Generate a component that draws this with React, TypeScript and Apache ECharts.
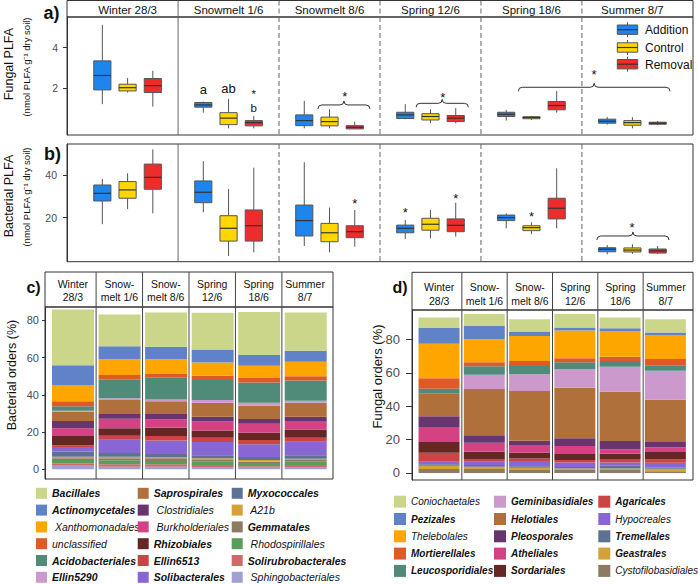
import React, { useEffect, useRef } from "react";
import * as echarts from "echarts";

const FONT = "'Liberation Sans', Arial, Helvetica, sans-serif";

// ---------- panels a / b ----------
const PERIODS = ["Winter 28/3", "Snowmelt 1/6", "Snowmelt 8/6", "Spring 12/6", "Spring 18/6", "Summer 8/7"];
const PERIODS_SHORT = ["Winter\n28/3", "Snow-\nmelt 1/6", "Snow-\nmelt 8/6", "Spring\n12/6", "Spring\n18/6", "Summer\n8/7"];
const TREATMENTS = ["Addition", "Control", "Removal"];
const TREATMENT_COLORS = ["#1C86EE", "#FFD700", "#EE2C2C"];

// [min, q1, median, q3, max] per period
const FUNGAL_ADDITION = [
  [1.22, 1.92, 2.63, 3.35, 5.12],
  [0.8, 1.07, 1.18, 1.3, 1.35],
  [0.03, 0.16, 0.41, 0.69, 1.38],
  [0.48, 0.51, 0.69, 0.82, 1.22],
  [0.41, 0.61, 0.72, 0.82, 0.94],
  [0.21, 0.28, 0.38, 0.48, 0.58],
];
const FUNGAL_CONTROL = [
  [1.79, 1.87, 2.03, 2.2, 2.5],
  [0.03, 0.21, 0.53, 0.8, 1.48],
  [0.03, 0.15, 0.36, 0.58, 0.97],
  [0.28, 0.44, 0.61, 0.75, 0.97],
  [0.44, 0.5, 0.56, 0.6, 0.64],
  [0.03, 0.18, 0.31, 0.41, 0.58],
];
const FUNGAL_REMOVAL = [
  [1.1, 1.79, 2.13, 2.48, 2.86],
  [0.03, 0.15, 0.31, 0.41, 0.64],
  [0.0, 0.0, 0.08, 0.16, 0.36],
  [0.28, 0.36, 0.53, 0.66, 1.02],
  [0.8, 0.94, 1.15, 1.35, 1.87],
  [0.18, 0.23, 0.28, 0.33, 0.39],
];
const BACTERIAL_ADDITION = [
  [16.9, 27.8, 31.4, 35.3, 38.1],
  [22.5, 27.0, 31.9, 37.2, 46.5],
  [6.7, 11.4, 18.6, 25.9, 46.0],
  [10.0, 12.9, 15.0, 16.5, 18.9],
  [15.0, 18.6, 20.0, 21.2, 22.0],
  [2.8, 4.0, 5.2, 5.9, 7.2],
];
const BACTERIAL_CONTROL = [
  [24.0, 29.1, 33.0, 36.9, 40.8],
  [2.0, 9.0, 15.0, 20.9, 33.4],
  [3.7, 8.7, 12.9, 17.3, 24.7],
  [10.3, 14.1, 16.9, 19.7, 23.6],
  [12.2, 13.9, 15.3, 16.2, 17.8],
  [3.0, 3.9, 4.8, 5.8, 7.5],
];
const BACTERIAL_REMOVAL = [
  [22.0, 33.3, 38.9, 45.1, 52.0],
  [3.7, 9.0, 16.2, 23.6, 43.4],
  [6.4, 10.6, 13.4, 16.2, 23.6],
  [11.1, 13.4, 16.4, 19.4, 27.0],
  [15.0, 19.4, 24.4, 29.1, 43.1],
  [3.1, 3.4, 4.4, 5.3, 6.7],
];
const FUNGAL_STATS = [FUNGAL_ADDITION, FUNGAL_CONTROL, FUNGAL_REMOVAL];
const BACTERIAL_STATS = [BACTERIAL_ADDITION, BACTERIAL_CONTROL, BACTERIAL_REMOVAL];

const FUNGAL_TICKS = [2, 4];
const BACTERIAL_TICKS = [20, 40];
const PCT_TICKS = [0, 20, 40, 60, 80];

// x positions on the continuous a/b axis: period p, treatment t -> 4p + t + 1
const PERIOD_DIVIDERS = [4, 8, 12, 16, 20];
const PERIOD_DIVIDER_SOLID = [true, false, false, false, false];
const PERIOD_CENTERS = [2, 6, 10, 14, 18, 22];

// braces: [x from, x to, y]
const FUNGAL_BRACES = [
  [9.54, 11.6, 1.18],
  [13.43, 15.5, 1.26],
  [17.48, 23.49, 2.05],
];
const BACTERIAL_BRACES = [[20.59, 23.45, 11.4]];
// marks: [x, y]
const FUNGAL_MARK_POS = [
  [5, 1.92], [6, 2.0], [7, 1.84], [7, 1.03], [10.6, 1.72], [14.49, 1.7], [20.48, 2.82],
];
const FUNGAL_MARK_TEXT = ["a", "ab", "*", "b", "*", "*", "*"];
const FUNGAL_MARK_SIZE = [13, 13, 11.5, 11.5, 13, 13, 13];
const BACTERIAL_MARK_POS = [
  [11, 27.8], [13, 23.6], [15, 30.3], [18, 22.0], [21.98, 16.5],
];
const BACTERIAL_MARK_TEXT = ["*", "*", "*", "*", "*"];

// ---------- panels c / d ----------
const BAR_PERIODS = ["Winter 28/3", "Snowmelt 1/6", "Snowmelt 8/6", "Spring 12/6", "Spring 18/6", "Summer 8/7"];
const BACT_ORDERS = [
  "Bacillales", "Actinomycetales", "Xanthomonadales", "unclassified", "Acidobacteriales", "Ellin5290",
  "Saprospirales", "Clostridiales", "Burkholderiales", "Rhizobiales", "Ellin6513", "Solibacterales",
  "Myxococcales", "A21b", "Gemmatales", "Rhodospirillales", "Solirubrobacterales", "Sphingobacteriales",
];
const BACT_BOLD = [
  "Bacillales", "Actinomycetales", "Acidobacteriales", "Ellin5290", "Saprospirales", "Rhizobiales",
  "Ellin6513", "Solibacterales", "Myxococcales", "Gemmatales", "Solirubrobacterales",
];
const BACT_VALUES = [
  [30.0, 17.0, 18.4, 19.7, 23.2, 20.6],
  [10.6, 7.0, 6.7, 6.9, 5.7, 5.9],
  [8.6, 8.5, 8.0, 7.0, 6.6, 7.7],
  [2.7, 2.5, 2.0, 2.5, 2.4, 2.3],
  [2.5, 10.0, 11.6, 10.7, 10.9, 10.9],
  [0.3, 0.9, 1.0, 1.5, 1.6, 1.1],
  [5.2, 7.5, 6.8, 7.5, 7.1, 7.5],
  [3.8, 2.6, 2.9, 2.5, 2.5, 2.3],
  [4.2, 5.1, 4.5, 4.8, 4.9, 4.5],
  [5.0, 4.0, 4.4, 4.0, 3.9, 4.5],
  [0.9, 2.1, 2.4, 2.3, 2.3, 2.1],
  [2.5, 7.2, 7.3, 7.1, 6.8, 7.3],
  [2.7, 1.9, 1.6, 1.6, 1.6, 1.8],
  [0.9, 0.9, 0.7, 0.9, 0.9, 0.7],
  [0.9, 1.1, 1.4, 0.9, 0.7, 0.9],
  [1.8, 2.1, 1.8, 1.8, 1.8, 1.8],
  [1.3, 1.3, 1.3, 1.1, 0.7, 1.1],
  [1.9, 1.4, 1.4, 1.2, 0.9, 1.2],
];
const BACT_COLORS = [
  "#CBD68B", "#6083C8", "#FFA500", "#DE5A26", "#508A78", "#CC99CC",
  "#B0703B", "#68356F", "#D54284", "#652724", "#CC4446", "#8866D4",
  "#5D7292", "#D5A23A", "#8C7A61", "#5A9C5A", "#D16B6B", "#A0A0D2",
];

const FUNG_ORDERS = [
  "Coniochaetales", "Pezizales", "Thelebolales", "Mortierellales", "Leucosporidiales",
  "Geminibasidiales", "Helotiales", "Pleosporales", "Atheliales", "Sordariales",
  "Agaricales", "Hypocreales", "Tremellales", "Geastrales", "Cystofilobasidiales",
];
const FUNG_BOLD = [
  "Pezizales", "Mortierellales", "Leucosporidiales", "Geminibasidiales", "Helotiales", "Pleosporales",
  "Atheliales", "Sordariales", "Agaricales", "Tremellales", "Geastrales",
];
const FUNG_VALUES = [
  [6.3, 7.2, 7.4, 8.2, 6.4, 8.0],
  [9.4, 8.0, 2.6, 1.8, 1.6, 1.4],
  [20.8, 13.8, 15.0, 16.6, 15.4, 14.4],
  [6.2, 2.4, 3.0, 2.4, 2.6, 3.8],
  [3.0, 5.0, 5.0, 4.0, 3.4, 3.2],
  [0.2, 8.6, 10.0, 11.2, 15.0, 17.4],
  [13.4, 27.8, 29.8, 30.4, 29.6, 25.4],
  [6.4, 4.4, 2.6, 4.6, 5.0, 3.2],
  [9.0, 5.4, 4.6, 4.8, 2.4, 2.8],
  [6.4, 4.4, 3.4, 3.6, 3.4, 4.4],
  [5.4, 1.6, 1.6, 1.4, 2.0, 2.0],
  [1.5, 2.0, 3.1, 2.8, 2.0, 3.0],
  [0.9, 1.0, 0.9, 0.8, 1.6, 0.6],
  [2.0, 1.4, 1.4, 1.0, 1.0, 1.5],
  [2.3, 2.3, 1.7, 1.7, 1.7, 1.0],
];
const FUNG_COLORS = [
  "#CBD68B", "#6083C8", "#FFA500", "#DE5A26", "#508A78",
  "#CC99CC", "#B0703B", "#68356F", "#D54284", "#652724",
  "#CC4446", "#8866D4", "#5D7292", "#D5A23A", "#8C7A61",
];
const BAR_DIVIDERS = [0.5, 1.5, 2.5, 3.5, 4.5];
const BAR_CENTERS = [0, 1, 2, 3, 4, 5];
const INDENTED = ["Xanthomonadales", "Clostridiales", "Burkholderiales", "A21b", "Rhodospirillales", "Sphingobacteriales"];

// ---------- helpers ----------
const BOX_W = 0.68;

function renderBox(color: string) {
  return (params: any, api: any) => {
    const x = api.value(0);
    const lo = api.coord([x, api.value(1)]);
    const q1 = api.coord([x, api.value(2)]);
    const md = api.coord([x, api.value(3)]);
    const q3 = api.coord([x, api.value(4)]);
    const hi = api.coord([x, api.value(5)]);
    const w = api.size([BOX_W, 0])[0];
    const cx = lo[0];
    return {
      type: "group",
      children: [
        { type: "line", shape: { x1: cx, y1: hi[1], x2: cx, y2: q3[1] }, style: { stroke: "#555", lineWidth: 1 } },
        { type: "line", shape: { x1: cx, y1: q1[1], x2: cx, y2: lo[1] }, style: { stroke: "#555", lineWidth: 1 } },
        {
          type: "rect",
          shape: { x: cx - w / 2, y: q3[1], width: w, height: Math.max(q1[1] - q3[1], 1.5) },
          style: { fill: color, stroke: "#555", lineWidth: 1 },
        },
        { type: "line", shape: { x1: cx - w / 2, y1: md[1], x2: cx + w / 2, y2: md[1] }, style: { stroke: "#333", lineWidth: 1.2 } },
      ],
    };
  };
}

function renderDivider(solid: boolean[], color: string) {
  return (params: any, api: any) => {
    const cs = params.coordSys;
    const x = api.coord([api.value(0), api.value(1)])[0];
    return {
      type: "line",
      shape: { x1: x, y1: cs.y, x2: x, y2: cs.y + cs.height },
      style: { stroke: color, lineWidth: 1, lineDash: solid[params.dataIndex] ? null : [5, 3] },
    };
  };
}

function renderText(texts: string[], fontSize: number | number[], lineHeight: number) {
  return (params: any, api: any) => {
    const p = api.coord([api.value(0), api.value(1)]);
    const t = texts[params.dataIndex];
    const fs = Array.isArray(fontSize) ? fontSize[params.dataIndex] : fontSize;
    const star = t === "*";
    return {
      type: "text",
      x: p[0],
      y: p[1] + (star ? fs * 0.22 : 0),
      style: {
        text: t,
        fontSize: fs,
        fontFamily: FONT,
        fill: "#111",
        align: "center",
        verticalAlign: "middle",
        lineHeight: star ? 7 : lineHeight,
      },
    };
  };
}

function renderBrace(params: any, api: any) {
  const a = api.coord([api.value(0), api.value(2)]);
  const b = api.coord([api.value(1), api.value(2)]);
  const y = a[1];
  const x1 = a[0];
  const x2 = b[0];
  const xm = (x1 + x2) / 2;
  const r = 4;
  const d =
    `M${x1},${y + r} Q${x1},${y} ${x1 + r},${y} L${xm - r},${y} Q${xm},${y} ${xm},${y - r} ` +
    `Q${xm},${y} ${xm + r},${y} L${x2 - r},${y} Q${x2},${y} ${x2},${y + r}`;
  return { type: "path", shape: { pathData: d }, style: { stroke: "#333", fill: "none", lineWidth: 1 } };
}

function chunk<T>(arr: T[], n: number): T[][] {
  const out: T[][] = [];
  for (let i = 0; i < arr.length; i += n) out.push(arr.slice(i, i + n));
  return out;
}

function buildOption() {
  const gridBase = { show: true, borderColor: "#333", borderWidth: 1, containLabel: false, outerBoundsMode: "none" };
  const grid: any[] = [
    { left: 67, top: 0.5, width: 626, height: 16.5 },
    { left: 67, top: 17, width: 626, height: 118 },
    { left: 67, top: 144, width: 626, height: 117.7 },
    { left: 45, top: 272, width: 288, height: 35 },
    { left: 45, top: 307, width: 288, height: 172 },
    { left: 412, top: 272.3, width: 281, height: 37.7 },
    { left: 412, top: 310, width: 281, height: 170 },
  ].map((g) => ({ ...gridBase, ...g }));
  // bar grids (inner band area of c and d)
  grid.push({ left: 49.75, top: 307, width: 279.25, height: 172, show: false, containLabel: false, outerBoundsMode: "none" });
  grid.push({ left: 416.4, top: 310, width: 271.6, height: 170, show: false, containLabel: false, outerBoundsMode: "none" });

  const xAB = { type: "value", min: -0.4, max: 24.4, show: false };
  const xCD = { type: "value", min: -0.6, max: 5.6, show: false };
  const xAxis: any[] = [0, 1, 2]
    .map((i) => ({ ...xAB, gridIndex: i }))
    .concat([3, 4, 5, 6].map((i) => ({ ...xCD, gridIndex: i })));
  xAxis.push({ type: "category", gridIndex: 7, data: BAR_PERIODS, show: false, boundaryGap: true });
  xAxis.push({ type: "category", gridIndex: 8, data: BAR_PERIODS, show: false, boundaryGap: true });

  const yHidden = (gi: number, min = 0, max = 1) => ({ type: "value", gridIndex: gi, min, max, show: false });
  const yShown = (gi: number, min: number, max: number, ticks: number[], fontSize: number, margin: number, tickLen: number) => ({
    type: "value",
    gridIndex: gi,
    min,
    max,
    axisLine: { show: true, onZero: false, lineStyle: { color: "#333", width: 1 } },
    axisTick: { show: true, length: tickLen, lineStyle: { color: "#333" }, customValues: ticks },
    axisLabel: { show: true, customValues: ticks, fontSize, color: "#4d4d4d", margin, fontFamily: FONT },
    splitLine: { show: false },
  });
  const yAxis = [
    yHidden(0),
    yShown(1, -0.3, 5.51, FUNGAL_TICKS, 10.5, 9, 4),
    yShown(2, -0.66, 54.52, BACTERIAL_TICKS, 10.5, 10, 4),
    yHidden(3),
    yShown(4, -5.2, 87.13, PCT_TICKS, 11, 6, 3),
    yHidden(5),
    yShown(6, -4.26, 97.66, PCT_TICKS, 13, 12, 6),
    yHidden(7, -5.2, 87.13),
    yHidden(8, -4.26, 97.66),
  ];

  const series: any[] = [];

  // dividers a/b (header, a, b)
  [0, 1, 2].forEach((gi) => {
    series.push({
      type: "custom",
      xAxisIndex: gi,
      yAxisIndex: gi,
      silent: true,
      clip: false,
      z: 1,
      renderItem: renderDivider(PERIOD_DIVIDER_SOLID, "#666"),
      encode: { x: 0, y: 1 },
      data: PERIOD_DIVIDERS.map((v) => [v, gi === 0 ? 0.5 : 1]),
    });
  });
  // header labels a/b
  series.push({
    type: "custom",
    xAxisIndex: 0,
    yAxisIndex: 0,
    silent: true,
    clip: false,
    renderItem: renderText(PERIODS, 11.5, 13),
    encode: { x: 0, y: 1 },
    data: PERIOD_CENTERS.map((c) => [c, 0.4]),
  });
  // boxes
  [FUNGAL_STATS, BACTERIAL_STATS].forEach((stats, pi) => {
    stats.forEach((perT, t) => {
      series.push({
        type: "custom",
        name: TREATMENTS[t],
        xAxisIndex: pi + 1,
        yAxisIndex: pi + 1,
        silent: true,
        clip: false,
        z: 3,
        renderItem: renderBox(TREATMENT_COLORS[t]),
        encode: { x: 0, y: [1, 2, 3, 4, 5] },
        data: perT.map((s, p) => [4 * p + t + 1, ...s]),
      });
    });
  });
  // braces
  series.push({
    type: "custom", xAxisIndex: 1, yAxisIndex: 1, silent: true, clip: false, z: 4,
    renderItem: renderBrace, encode: { x: [0, 1], y: 2 }, data: FUNGAL_BRACES,
  });
  series.push({
    type: "custom", xAxisIndex: 2, yAxisIndex: 2, silent: true, clip: false, z: 4,
    renderItem: renderBrace, encode: { x: [0, 1], y: 2 }, data: BACTERIAL_BRACES,
  });
  // marks
  series.push({
    type: "custom", xAxisIndex: 1, yAxisIndex: 1, silent: true, clip: false, z: 4,
    renderItem: renderText(FUNGAL_MARK_TEXT, FUNGAL_MARK_SIZE, 11), encode: { x: 0, y: 1 }, data: FUNGAL_MARK_POS,
  });
  series.push({
    type: "custom", xAxisIndex: 2, yAxisIndex: 2, silent: true, clip: false, z: 4,
    renderItem: renderText(BACTERIAL_MARK_TEXT, 13, 11), encode: { x: 0, y: 1 }, data: BACTERIAL_MARK_POS,
  });

  // dividers c/d
  [3, 4, 5, 6].forEach((gi) => {
    series.push({
      type: "custom",
      xAxisIndex: gi,
      yAxisIndex: gi,
      silent: true,
      clip: false,
      z: 5,
      renderItem: renderDivider(BAR_DIVIDERS.map(() => true), "#444"),
      encode: { x: 0, y: 1 },
      data: BAR_DIVIDERS.map((v) => [v, gi === 3 || gi === 5 ? 0.5 : 10]),
    });
  });
  // header labels c/d
  series.push({
    type: "custom", xAxisIndex: 3, yAxisIndex: 3, silent: true, clip: false,
    renderItem: renderText(PERIODS_SHORT, 10.5, 12.5), encode: { x: 0, y: 1 },
    data: BAR_CENTERS.map((c) => [c, 0.47]),
  });
  series.push({
    type: "custom", xAxisIndex: 5, yAxisIndex: 5, silent: true, clip: false,
    renderItem: renderText(PERIODS_SHORT, 10.5, 14.5), encode: { x: 0, y: 1 },
    data: BAR_CENTERS.map((c) => [c, 0.42]),
  });

  // stacked bars (bottom of stack = last legend entry)
  for (let i = BACT_ORDERS.length - 1; i >= 0; i--) {
    series.push({
      type: "bar",
      name: BACT_ORDERS[i],
      xAxisIndex: 7,
      yAxisIndex: 7,
      stack: "bact",
      barWidth: 42,
      silent: true,
      itemStyle: { color: BACT_COLORS[i] },
      data: BACT_VALUES[i],
    });
  }
  for (let i = FUNG_ORDERS.length - 1; i >= 0; i--) {
    series.push({
      type: "bar",
      name: FUNG_ORDERS[i],
      xAxisIndex: 8,
      yAxisIndex: 8,
      stack: "fung",
      barWidth: 41,
      silent: true,
      itemStyle: { color: FUNG_COLORS[i] },
      data: FUNG_VALUES[i],
    });
  }

  const legendCol = (names: string[], bold: string[], left: number, top: number, size: number, gap: number, fontSize: number) => ({
    orient: "vertical",
    left,
    top,
    padding: 0,
    itemWidth: size,
    itemHeight: size,
    itemGap: gap,
    selectedMode: false,
    icon: "rect",
    textStyle: { fontSize, fontFamily: FONT, color: "#111", fontStyle: "italic", lineHeight: size },
    formatter: (n: string) => (INDENTED.indexOf(n) >= 0 ? " " + n : n),
    data: names.map((n) => ({
      name: n,
      icon: "rect",
      textStyle: { fontWeight: bold.indexOf(n) >= 0 ? "bold" : "normal", fontStyle: "italic" },
    })),
  });
  const bactCols = chunk(BACT_ORDERS, 6);
  const fungCols = chunk(FUNG_ORDERS, 5);
  const legend = [
    ...bactCols.map((c, i) => legendCol(c, BACT_BOLD, [36, 137.7, 231.7][i], 487.8, 11, 5.8, 10.5)),
    ...fungCols.map((c, i) => legendCol(c, FUNG_BOLD, [394, 494, 598.3][i], 495.7, 12, 5.3, 10)),
  ];

  // graphic: titles, panel letters, legend of a
  const rotText = (text: string, x: number, y: number, fontSize: number) => ({
    type: "text",
    x,
    y,
    rotation: Math.PI / 2,
    style: { text, fontSize, fontFamily: FONT, fill: "#111", align: "center", verticalAlign: "middle" },
  });
  const letter = (text: string, x: number, y: number, fontSize: number) => ({
    type: "text",
    x,
    y,
    style: { text, fontSize, fontWeight: "bold", fontFamily: FONT, fill: "#111", align: "center", verticalAlign: "middle" },
  });
  const legA: any[] = [];
  const legAY = [29.7, 47.5, 64.2];
  TREATMENTS.forEach((t, i) => {
    const cy = legAY[i];
    legA.push({ type: "line", shape: { x1: 627.5, y1: cy - 7.5, x2: 627.5, y2: cy + 7.5 }, style: { stroke: "#555", lineWidth: 1 } });
    legA.push({ type: "rect", shape: { x: 617.3, y: cy - 4.7, width: 20.4, height: 9.4 }, style: { fill: TREATMENT_COLORS[i], stroke: "#555", lineWidth: 1 } });
    legA.push({ type: "line", shape: { x1: 617.3, y1: cy, x2: 637.7, y2: cy }, style: { stroke: "#333", lineWidth: 1.2 } });
    legA.push({
      type: "text",
      x: 645,
      y: cy + 0.5,
      style: { text: t, fontSize: 12, fontFamily: FONT, fill: "#111", align: "left", verticalAlign: "middle" },
    });
  });

  const graphic = [
    rotText("Fungal PLFA", 9, 64, 12.5),
    rotText("(nmol PLFA g\u207B\u00B9 dry soil)", 26, 67, 9.5),
    rotText("Bacterial PLFA", 9, 196, 12.5),
    rotText("(nmol PLFA g\u207B\u00B9 dry soil)", 26, 197, 9.5),
    rotText("Bacterial orders (%)", 12, 375, 12.5),
    rotText("Fungal orders (%)", 377, 376.5, 13),
    letter("a)", 51.5, 12.5, 18),
    letter("b)", 52.5, 153.5, 18),
    letter("c)", 33.5, 287.5, 16),
    letter("d)", 400, 287, 16),
    ...legA,
  ];

  return {
    animation: false,
    backgroundColor: "#ffffff",
    textStyle: { fontFamily: FONT },
    grid,
    xAxis,
    yAxis,
    legend,
    series,
    graphic,
  };
}

export default function App() {
  const ref = useRef<HTMLDivElement>(null);
  useEffect(() => {
    const chart = echarts.init(ref.current as HTMLDivElement, null, { renderer: "svg" });
    chart.setOption(buildOption() as any);
    return () => chart.dispose();
  }, []);
  return (
    <div
      ref={ref}
      style={{ position: "fixed", left: 0, top: 0, width: 698, height: 584, background: "#fff" }}
    />
  );
}
